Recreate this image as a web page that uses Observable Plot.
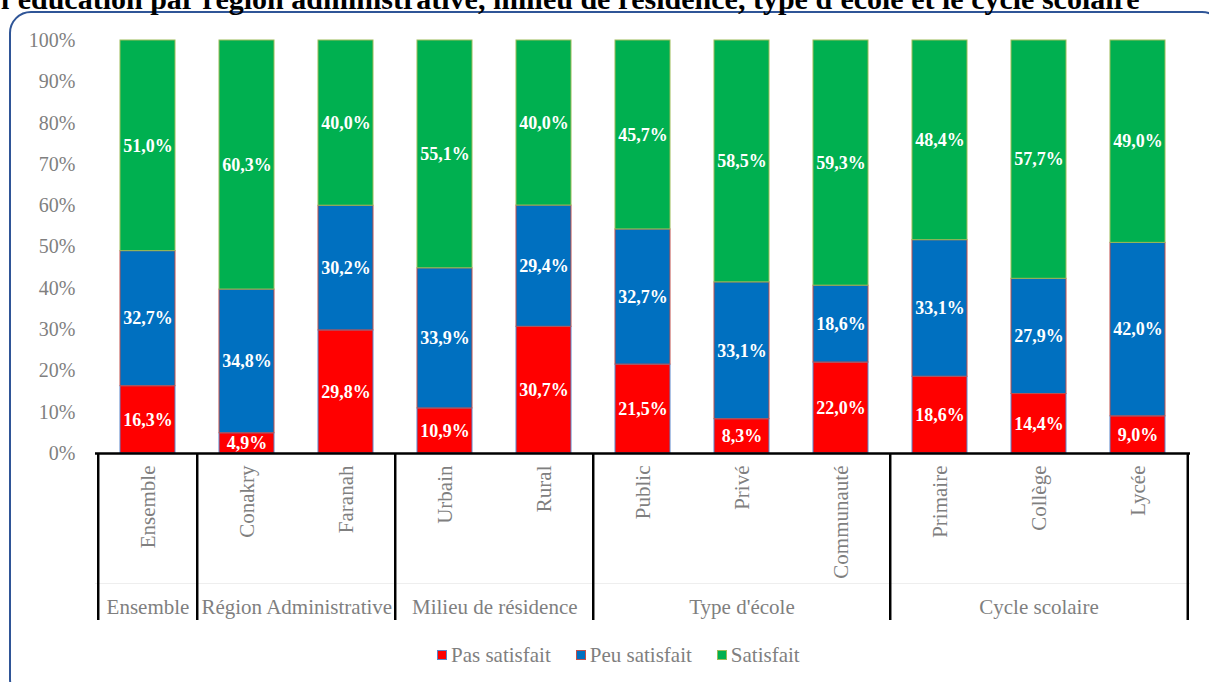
<!DOCTYPE html>
<html>
<head>
<meta charset="utf-8">
<script src="https://cdn.jsdelivr.net/npm/d3@7"></script>
<script src="https://cdn.jsdelivr.net/npm/@observablehq/plot@0.6"></script>
<style>
  html, body { margin: 0; padding: 0; background: #fff; }
  #wrap { position: relative; width: 1209px; height: 682px; overflow: hidden; font-family: "Liberation Serif", "Times New Roman", serif; }
  #title { position: absolute; left: 1px; top: -16px; white-space: nowrap; font-weight: bold; font-size: 30px; line-height: 30px; color: #000; font-family: "Liberation Serif", serif; }
  #frame { position: absolute; left: 9px; top: 11px; width: 1215px; height: 690px; border: 2.5px solid #2F5597; border-radius: 22px; box-sizing: border-box; }
  #chart { position: absolute; left: 0; top: 0; }
  #legend { position: absolute; left: 437px; top: 642px; display: flex; align-items: center; font-size: 21px; line-height: 26px; color: #7F7F7F; font-family: "Liberation Serif", serif; }
  #legend .item { display: flex; align-items: center; margin-right: 25px; }
  #legend .sw { width: 8px; height: 8px; border: 1.5px solid; margin-right: 4px; }
</style>
</head>
<body>
<div id="wrap">
  <div id="frame"></div>
  <div id="title"></div>
  <div id="chart"></div>
  <div id="legend"></div>
</div>
<script>
// ---- Data ----
const titleText = "l'éducation par région administrative, milieu de résidence, type d'école et le cycle scolaire";
const categories = ["Ensemble", "Conakry", "Faranah", "Urbain", "Rural", "Public", "Privé", "Communauté", "Primaire", "Collège", "Lycée"];
const seriesNames = ["Pas satisfait", "Peu satisfait", "Satisfait"];
const pasSatisfait = [16.3, 4.9, 29.8, 10.9, 30.7, 21.5, 8.3, 22.0, 18.6, 14.4, 9.0];
const peuSatisfait = [32.7, 34.8, 30.2, 33.9, 29.4, 32.7, 33.1, 18.6, 33.1, 27.9, 42.0];
const satisfait = [51.0, 60.3, 40.0, 55.1, 40.0, 45.7, 58.5, 59.3, 48.4, 57.7, 49.0];
const groupNames = ["Ensemble", "Région Administrative", "Milieu de résidence", "Type d'école", "Cycle scolaire"];
const groupMembers = [
  ["Ensemble"],
  ["Conakry", "Faranah"],
  ["Urbain", "Rural"],
  ["Public", "Privé", "Communauté"],
  ["Primaire", "Collège", "Lycée"]
];
const yTicks = [0, 0.1, 0.2, 0.3, 0.4, 0.5, 0.6, 0.7, 0.8, 0.9, 1.0];

// ---- Styles ----
const fillColors = {"Pas satisfait": "#FF0000", "Peu satisfait": "#0070C0", "Satisfait": "#00B050"};
const strokeColors = {"Pas satisfait": "#5B86C9", "Peu satisfait": "#C0504D", "Satisfait": "#9BBB59"};
const gray = "#7F7F7F";
const font = "Liberation Serif";

const W = 1209, H = 682;
const mL = 95, mR = 19, mT = 40, mB = 229;
const step = (W - mL - mR) / categories.length;

// ---- Build table ----
const valueArrays = [pasSatisfait, peuSatisfait, satisfait];
const data = [];
categories.forEach((c, i) => {
  seriesNames.forEach((s, j) => data.push({cat: c, series: s, value: valueArrays[j][i]}));
});
const fmt = v => v.toFixed(1).replace(".", ",") + "%";

// groups: separators and label anchors
const sepLeft = groupMembers.map(g => g[0]);
const sepRight = [categories[categories.length - 1]];
const groupOdd = [], groupEven = [];
groupMembers.forEach((g, i) => {
  const mid = Math.floor((g.length - 1) / 2);
  (g.length % 2 === 1 ? groupOdd : groupEven).push({cat: g[mid], label: groupNames[i]});
});

document.getElementById("title").textContent = titleText;

const chart = Plot.plot({
  width: W,
  height: H,
  marginLeft: mL,
  marginRight: mR,
  marginTop: mT,
  marginBottom: mB,
  style: {fontFamily: font, background: "transparent", overflow: "visible"},
  x: {domain: categories, paddingInner: 0.44, paddingOuter: 0.22, axis: null},
  y: {domain: [0, 1], axis: null},
  color: {type: "identity"},
  marks: [
    Plot.axisY({ticks: yTicks, tickFormat: d3.format(".0%"), tickSize: 0, tickPadding: 20, fontSize: 20, fill: gray, fontFamily: font, label: null}),
    Plot.barY(data, Plot.stackY({
      offset: "normalize",
      x: "cat", y: "value", z: "series",
      fill: d => fillColors[d.series],
      stroke: d => strokeColors[d.series],
      strokeWidth: 1
    })),
    Plot.text(data, Plot.stackY({
      offset: "normalize",
      x: "cat", y: "value", z: "series",
      text: d => fmt(d.value),
      fill: "white", fontWeight: "bold", fontSize: 18, fontFamily: font
    })),
    // faint divider between category and group labels
    Plot.ruleY([0], {stroke: "#EEEEEE", strokeWidth: 1, dy: 130}),
    // baseline
    Plot.ruleY([0], {stroke: "black", strokeWidth: 2.5}),
    // group separators
    Plot.ruleX(sepLeft, {x: d => d, dx: -step / 2, stroke: "black", strokeWidth: 2.5, insetTop: H - mT - mB, insetBottom: -167}),
    Plot.ruleX(sepRight, {x: d => d, dx: step / 2, stroke: "black", strokeWidth: 2.5, insetTop: H - mT - mB, insetBottom: -167}),
    // category labels
    Plot.text(categories, {x: d => d, y: () => 0, text: d => d, rotate: -90, textAnchor: "end", lineAnchor: "middle", dy: 12, fill: gray, fontSize: 21, fontFamily: font}),
    // group labels
    Plot.text(groupOdd, {x: "cat", y: () => 0, text: "label", dy: 154, lineAnchor: "middle", fill: gray, fontSize: 21, fontFamily: font}),
    Plot.text(groupEven, {x: "cat", y: () => 0, text: "label", dx: step / 2, dy: 154, lineAnchor: "middle", fill: gray, fontSize: 21, fontFamily: font})
  ]
});
document.getElementById("chart").appendChild(chart);

// legend
const legend = document.getElementById("legend");
seriesNames.forEach(s => {
  const item = document.createElement("div");
  item.className = "item";
  const sw = document.createElement("div");
  sw.className = "sw";
  sw.style.background = fillColors[s];
  sw.style.borderColor = strokeColors[s];
  const t = document.createElement("span");
  t.textContent = s;
  item.appendChild(sw);
  item.appendChild(t);
  legend.appendChild(item);
});
</script>
</body>
</html>
